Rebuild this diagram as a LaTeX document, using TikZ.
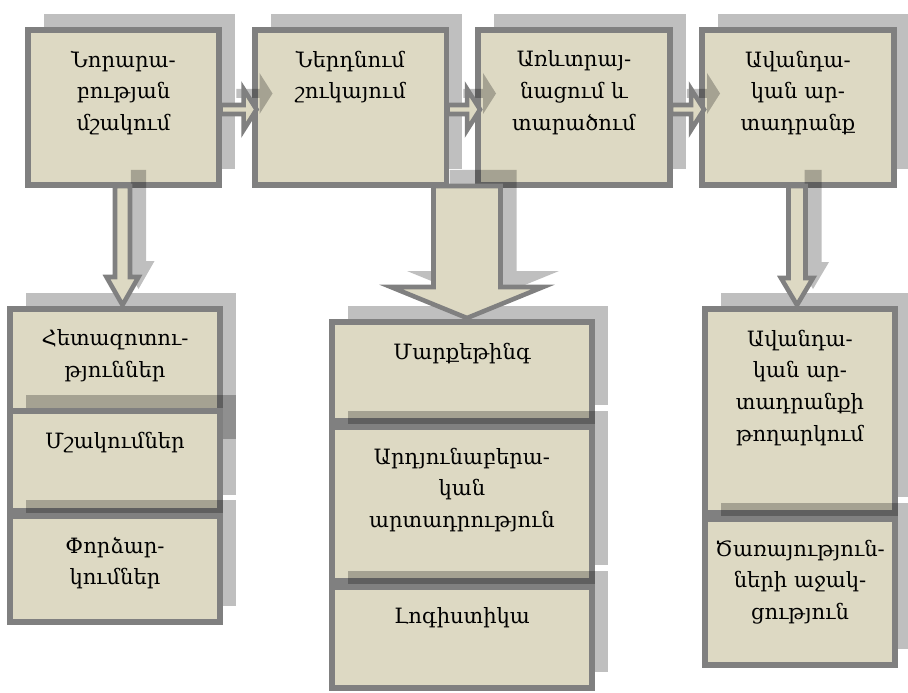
\documentclass[tikz,border=0pt]{standalone}
\usepackage{fontspec}
\setmainfont{DejaVu Serif}
\usetikzlibrary{positioning}
\usetikzlibrary{calc}
\usetikzlibrary{shadows}
\definecolor{tanfill}{HTML}{DDD9C3}
\definecolor{rimgray}{HTML}{808080}

\tikzset{
  offshadow/.style={drop shadow={shadow xshift=0.32cm, shadow yshift=0.32cm, opacity=0.25, fill=black}},
  box/.style={draw=rimgray, fill=tanfill, line width=3.4pt, inner sep=0pt, offshadow},
  topbox/.style={box, minimum width=3.84cm, minimum height=3.1cm},
  txt/.style={align=center, inner sep=0pt, font=\fontsize{12}{18}\selectfont},
  blockarrow/.style={draw=rimgray, fill=tanfill, line width=2.6pt, offshadow}
}

\newcommand{\harrow}[2]{%
  \draw[blockarrow] ($(#1.east)+(-2,-2.5)$) -- ($(#2.west |- #1.east)+(-8,-2.5)$)
    -- ($(#2.west |- #1.east)+(-8,-18.5)$) -- ($(#2.west |- #1.east)+(5,2)$)
    -- ($(#2.west |- #1.east)+(-8,22.5)$) -- ($(#2.west |- #1.east)+(-8,6.5)$)
    -- ($(#1.east)+(-2,6.5)$) -- cycle;}
\newcommand{\varrow}[6]{%
  \draw[blockarrow] ($(#2.north |- #1.south)+(#3-#4,-2)$) -- ($(#2.north)+(#3-#4,-#6)$)
    -- ($(#2.north)+(#3-#5,-#6)$) -- ($(#2.north)+(#3,-1)$)
    -- ($(#2.north)+(#3+#5,-#6)$) -- ($(#2.north)+(#3+#4,-#6)$)
    -- ($(#2.north |- #1.south)+(#3+#4,-2)$) -- cycle;}

\begin{document}
\begin{tikzpicture}[x=0.02cm, y=-0.02cm]
  \useasboundingbox (0,0) rectangle (908,692);

  \node[topbox] (n1) at (123.5,107.5) {};
  \node[topbox] (n2) at (350.5,107.5) {};
  \node[topbox] (n3) at (574,107.5) {};
  \node[topbox] (n4) at (798,107.5) {};

  \node[box, minimum width=4.2cm, minimum height=2.92cm] (l1) at (115,382) {};
  \node[box, minimum width=4.2cm, minimum height=2.0cm] (l2) at (115,461) {};
  \node[box, minimum width=4.2cm, minimum height=2.12cm] (l3) at (115,569) {};

  \node[box, minimum width=5.2cm, minimum height=1.98cm] (m1) at (462,371.5) {};
  \node[box, minimum width=5.2cm, minimum height=3.08cm] (m2) at (462,504) {};
  \node[box, minimum width=5.2cm, minimum height=2.02cm] (m3) at (462,637.5) {};

  \node[box, minimum width=3.8cm, minimum height=4.08cm] (r1) at (800,411) {};
  \node[box, minimum width=3.8cm, minimum height=2.92cm] (r2) at (800,592) {};

  \node[txt, below=0.47cm of n1.north] (t1) {Նորարա-\\բության\\մշակում};
  \node[txt, below=0.47cm of n2.north] (t2) {Ներդնում\\շուկայում};
  \node[txt, below=0.47cm of n3.north] (t3) {Առևտրայ-\\նացում և\\տարածում};
  \node[txt, below=0.47cm of n4.north] (t4) {Ավանդա-\\կան ար-\\տադրանք};
  \node[txt, below=0.47cm of l1.north] (tl1) {Հետազոտու-\\թյուններ};
  \node[txt, below=0.47cm of l2.north] (tl2) {Մշակումներ};
  \node[txt, below=0.47cm of l3.north] (tl3) {Փորձար-\\կումներ};
  \node[txt, below=0.47cm of m1.north] (tm1) {Մարքեթինգ};
  \node[txt, below=0.47cm of m2.north] (tm2) {Արդյունաբերա-\\կան\\արտադրություն};
  \node[txt, below=0.47cm of m3.north] (tm3) {Լոգիստիկա};
  \node[txt, below=0.47cm of r1.north] (tr1) {Ավանդա-\\կան ար-\\տադրանքի\\թողարկում};
  \node[txt, below=0.47cm of r2.north] (tr2) {Ծառայություն-\\ների աջակ-\\ցություն};

  \harrow{n1}{n2}
  \harrow{n2}{n3}
  \harrow{n3}{n4}
  \varrow{n1}{l1}{7.5}{7.5}{16}{29}
  \varrow{n2}{m1}{5}{33.5}{76}{32}
  \varrow{n4}{r1}{-3}{8.5}{16}{28}
\end{tikzpicture}
\end{document}
